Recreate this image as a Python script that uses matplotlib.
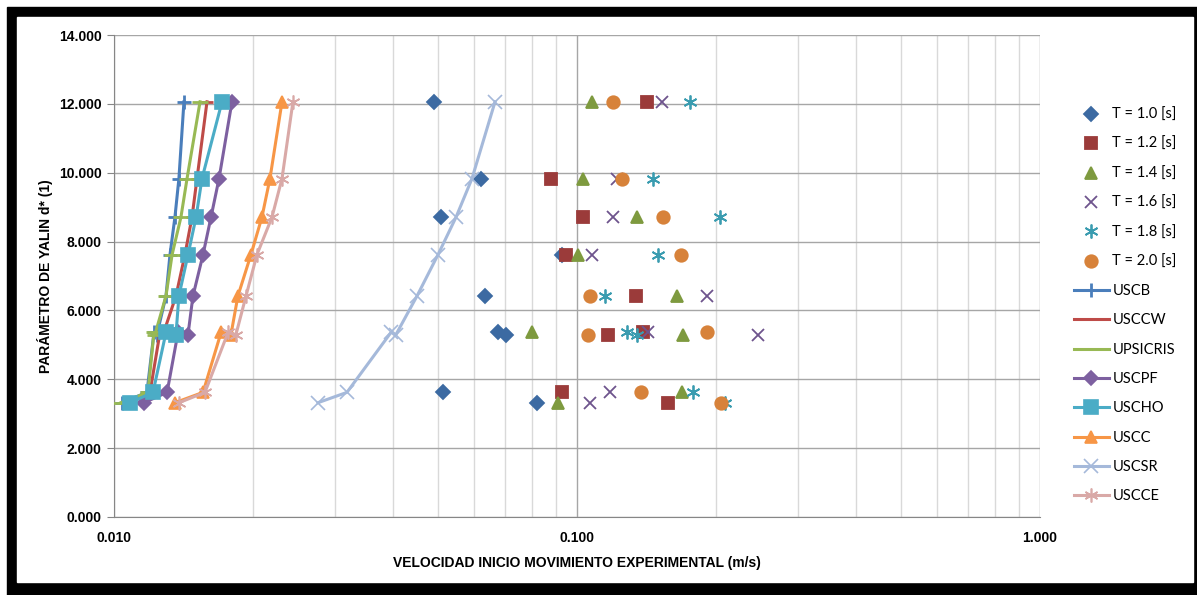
import numpy as np
import matplotlib
matplotlib.use("Agg")
import matplotlib.pyplot as plt
from matplotlib.patches import Rectangle
from matplotlib.ticker import FuncFormatter, LogLocator, NullFormatter, MultipleLocator

# d* levels, in the order the points appear in each series
d_star = [3.32, 3.62, 5.36, 5.30, 6.42, 7.62, 8.71, 9.83, 12.06]

# experimental velocities (m/s) for each wave period
t10 = [0.0820, 0.0514, 0.0675, 0.0703, 0.0633, 0.0928, 0.0508, 0.0620, 0.0491]
t12 = [0.1573, 0.0928, 0.1388, 0.1167, 0.1341, 0.0947, 0.1030, 0.0879, 0.1416]
t14 = [0.0910, 0.1686, 0.0800, 0.1694, 0.1644, 0.1005, 0.1348, 0.1030, 0.1078]
t16 = [0.1067, 0.1179, 0.1423, 0.2460, 0.1909, 0.1078, 0.1196, 0.1220, 0.1526]
t18 = [0.2088, 0.1780, 0.1282, 0.1348, 0.1150, 0.1496, 0.2037, 0.1459, 0.1754]
t20 = [0.2046, 0.1375, 0.1909, 0.1056, 0.1067, 0.1677, 0.1534, 0.1251, 0.1196]

# formula curves
uscb = [0.01041, 0.01178, 0.01220, 0.01238, 0.01295, 0.01321, 0.01354, 0.01381, 0.01416]
usccw = [0.01062, 0.01196, 0.01257, 0.01276, 0.01361, 0.01423, 0.01474, 0.01511, 0.01588]
upsicris = [0.01035, 0.01184, 0.01220, 0.01226, 0.01295, 0.01335, 0.01395, 0.01438, 0.01534]
uscpf = [0.01161, 0.01302, 0.01375, 0.01445, 0.01481, 0.01557, 0.01620, 0.01686, 0.01798]
uscho = [0.01083, 0.01214, 0.01295, 0.01361, 0.01381, 0.01445, 0.01504, 0.01549, 0.01711]
uscc = [0.01354, 0.01557, 0.01703, 0.01789, 0.01852, 0.01976, 0.02087, 0.02172, 0.02306]
uscsr = [0.02758, 0.03185, 0.03965, 0.04065, 0.04513, 0.05010, 0.05480, 0.05932, 0.06652]
uscce = [0.01381, 0.01572, 0.01763, 0.01834, 0.01928, 0.02036, 0.02194, 0.02306, 0.02435]

fig = plt.figure(figsize=(11.97, 5.95), dpi=100)
# black frame, thicker at bottom like the original screenshot
fig.patches.append(Rectangle((7 / 1197, 0), 1 - 7 / 1197, 1 - 7 / 595,
                             transform=fig.transFigure, color="black", zorder=-10))
fig.patches.append(Rectangle((17 / 1197, 13 / 595), (1193 - 17) / 1197, (582 - 17) / 595,
                             transform=fig.transFigure, color="white", zorder=-9))

ax = fig.add_axes([114 / 1197, 1 - 517 / 595, (1040 - 114) / 1197, (517 - 35) / 595])

scat = [
    (t10, "T = 1.0 [s]", "D", "#3c6aa2", 7),
    (t12, "T = 1.2 [s]", "s", "#9b3b3a", 8.5),
    (t14, "T = 1.4 [s]", "^", "#7e9a3f", 9),
    (t16, "T = 1.6 [s]", "x", "#6e548d", 9),
    (t18, "T = 1.8 [s]", (6, 2, 0), "#3a9cb0", 10),
    (t20, "T = 2.0 [s]", "o", "#d7823a", 9),
]
for xs, lab, mk, col, ms in scat:
    ax.plot(xs, d_star, linestyle="none", marker=mk, color=col, markersize=ms,
            markeredgewidth=1.3, label=lab, zorder=3)

lines = [
    (uscb, "USCB", "+", "#4a7ebb", 10),
    (usccw, "USCCW", "_", "#be4b48", 9),
    (upsicris, "UPSICRIS", "_", "#98b954", 11),
    (uscpf, "USCPF", "D", "#7d60a0", 7),
    (uscho, "USCHO", "s", "#4bacc6", 10),
    (uscc, "USCC", "^", "#f79646", 9),
    (uscsr, "USCSR", "x", "#a5b9da", 10),
    (uscce, "USCCE", (6, 2, 0), "#d9a9a7", 10),
]
for xs, lab, mk, col, ms in lines:
    ax.plot(xs, d_star, color=col, linewidth=2.2, marker=mk, markersize=ms,
            markeredgewidth=2 if mk in ("_", "+") else 1.2, label=lab, zorder=4)

ax.set_xscale("log")
ax.set_xlim(0.01, 1.0)
ax.set_ylim(0, 14)
ax.yaxis.set_major_locator(MultipleLocator(2))
ax.yaxis.set_major_formatter(FuncFormatter(lambda v, p: f"{v:.3f}"))
ax.xaxis.set_major_locator(LogLocator(base=10, numticks=5))
ax.xaxis.set_minor_locator(LogLocator(base=10, subs=np.arange(2, 10), numticks=20))
ax.xaxis.set_major_formatter(FuncFormatter(lambda v, p: f"{v:.3f}"))
ax.xaxis.set_minor_formatter(NullFormatter())

ax.grid(True, which="major", axis="both", color="#a6a6a6", linewidth=1.0, zorder=0)
ax.grid(True, which="minor", axis="x", color="#d9d9d9", linewidth=1.0, zorder=0)
ax.set_axisbelow(True)
for side in ("top", "right"):
    ax.spines[side].set_visible(False)
for side in ("left", "bottom"):
    ax.spines[side].set_color("#868686")

tick_font = {"family": ["Liberation Sans Narrow", "Liberation Sans"], "weight": "bold", "size": 10}
for lbl in ax.get_xticklabels() + ax.get_yticklabels():
    lbl.set_fontproperties(tick_font)
ax.tick_params(axis="y", which="major", length=5, color="#868686", pad=4)
ax.tick_params(axis="x", which="major", length=0, pad=10)
ax.tick_params(axis="x", which="minor", length=0)

ax.set_ylabel("PARÁMETRO DE YALIN d* (1)", fontdict=tick_font, labelpad=4)
ax.set_xlabel("VELOCIDAD INICIO MOVIMIENTO EXPERIMENTAL (m/s)", fontdict=tick_font, labelpad=8)

ax.legend(loc="upper left", bbox_to_anchor=(1068 / 1197, 1 - 102 / 595),
          bbox_transform=fig.transFigure, frameon=False,
          prop={"family": ["Lato", "DejaVu Sans"], "size": 10.5},
          handlelength=2.4, handletextpad=0.25, labelspacing=1.05, borderaxespad=0)

fig.savefig("out.png", dpi=100)
